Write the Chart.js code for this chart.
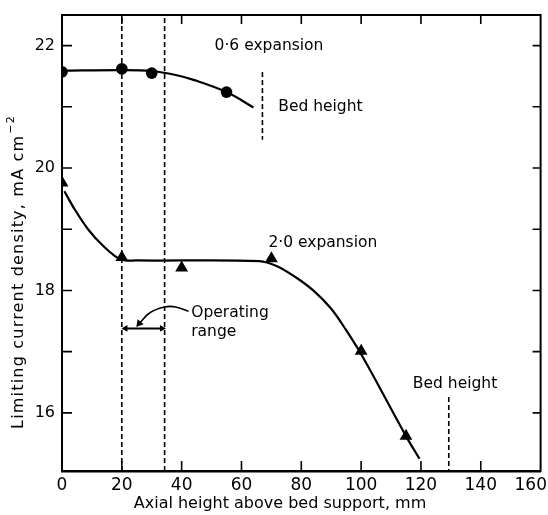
<!DOCTYPE html>
<html><head><meta charset="utf-8">
<script src="https://cdn.jsdelivr.net/npm/chart.js@4/dist/chart.umd.min.js"></script>
<style>html,body{margin:0;padding:0;background:#fff;} #wrap{width:548px;height:515px;}</style>
</head><body><div id="wrap"><canvas id="c" width="548" height="515"></canvas></div>
<script>
// ---- data ----
const xTickLabels = [0,20,40,60,80,100,120,140,160];
const yTickLabels = [16,18,20,22];
const yMinorTicks = [16,17,18,19,20,21,22];
const xRange = [0,160];
const yRange = [15.05,22.5];

// 0.6 expansion (circles)
const exp06X = [0,20,30,55];
const exp06Y = [21.57,21.62,21.55,21.24];
// 2.0 expansion (triangles)
const exp20X = [0,20,40,70,100,115];
const exp20Y = [19.76,18.54,18.37,18.52,17.01,15.62];

// hand-drawn fitted curves
const fit06X = [0,20,30,38,44,55,64];
const fit06Y = [21.59,21.6,21.585,21.52,21.44,21.24,20.99];
const fit20X = [0.8,4.3,8.7,13.3,19.5,25,66,71.7,78,84,90,95,100.7,115,119.5];
const fit20Y = [19.62,19.32,19.0,18.75,18.51,18.49,18.48,18.4,18.22,18.0,17.7,17.35,16.9,15.62,15.25];

// operating range limits (vertical dashed lines)
const rangeLimitsX = [20,34.3];
// bed height markers
const bed06X = [67,67];
const bed06Y = [21.57,20.46];
const bed20X = [129.3,129.3];
const bed20Y = [16.26,15.05];
// operating range double arrow
const rangeArrowX = [21.2,33.4];
const rangeArrowY = [17.38,17.38];
// pointer arrow from "Operating range" label
const pointerX = [42.3,38,34.3,29.5,25.8];
const pointerY = [17.66,17.73,17.73,17.64,17.46];

// annotation labels
const labelTexts = ['0·6 expansion','Bed height','2·0 expansion','Operating','range','Bed height'];
const labelX = [51,72.3,69,43.2,43.2,117.3];
const labelY = [22.0,21.0,18.78,17.64,17.32,16.47];

const xTitle = 'Axial height above bed support, mm';
const yTitle = 'Limiting current density, mA cm';
const yTitleSup = '\u22122';

// ---- build chart ----
const pts = (xs, ys) => xs.map((x,i)=>({x:x, y:ys[i]}));
const FONT = '"DejaVu Sans", sans-serif';

const dashed = (xs, ys) => ({
  data: pts(xs, ys), showLine:true, borderColor:'#000', borderWidth:1.6,
  borderDash:[5,3], pointRadius:0, fill:false
});

const datasets = [
  {data: pts(fit06X, fit06Y), showLine:true, borderColor:'#000', borderWidth:2.2, pointRadius:0, tension:0.35},
  {data: pts(fit20X, fit20Y), showLine:true, borderColor:'#000', borderWidth:2.2, pointRadius:0, tension:0.35},
  dashed([rangeLimitsX[0],rangeLimitsX[0]], yRange),
  dashed([rangeLimitsX[1],rangeLimitsX[1]], yRange),
  dashed(bed06X, bed06Y),
  dashed(bed20X, bed20Y),
  {data: pts(rangeArrowX, rangeArrowY), showLine:true, borderColor:'#000', borderWidth:2,
   pointStyle:'triangle', pointRadius:4, pointRotation:[270,90], backgroundColor:'#000', pointBorderWidth:0},
  {data: pts(pointerX, pointerY), showLine:true, borderColor:'#000', borderWidth:1.6, tension:0.4,
   pointStyle:'triangle', pointRadius:[0,0,0,0,4.5], pointRotation:[0,0,0,0,220], backgroundColor:'#000', pointBorderWidth:0},
  {data: pts(exp06X, exp06Y), showLine:false, pointStyle:'circle', pointRadius:5.8, backgroundColor:'#000', borderColor:'#000', pointBorderWidth:0},
  {data: pts(exp20X, exp20Y), showLine:false, pointStyle:'triangle', pointRadius:7.4, backgroundColor:'#000', borderColor:'#000', pointBorderWidth:0},
];

const decor = {
  id:'decor',
  afterDatasetsDraw(chart){
    const ctx = chart.ctx, a = chart.chartArea;
    const xs = chart.scales.x, ys = chart.scales.y;
    ctx.save();
    ctx.strokeStyle = '#000';
    ctx.lineWidth = 2;
    ctx.strokeRect(a.left, a.top, a.right - a.left, a.bottom - a.top);
    ctx.lineWidth = 1.6;
    ctx.beginPath();
    yMinorTicks.forEach(v=>{
      const y = ys.getPixelForValue(v);
      ctx.moveTo(a.left, y); ctx.lineTo(a.left + 10, y);
      ctx.moveTo(a.right, y); ctx.lineTo(a.right - 8, y);
    });
    xTickLabels.forEach(v=>{
      if (v === xRange[0] || v === xRange[1]) return;
      const x = xs.getPixelForValue(v);
      ctx.moveTo(x, a.bottom); ctx.lineTo(x, a.bottom - 10);
      ctx.moveTo(x, a.top); ctx.lineTo(x, a.top + 9);
    });
    ctx.stroke();
    ctx.restore();
  },
  afterDraw(chart){
    const ctx = chart.ctx, a = chart.chartArea;
    const xs = chart.scales.x, ys = chart.scales.y;
    ctx.save();
    ctx.fillStyle = '#000';
    // x tick labels (kept inside the canvas at the right edge)
    ctx.font = '17px ' + FONT;
    ctx.textAlign = 'center';
    ctx.textBaseline = 'middle';
    xTickLabels.forEach(v=>{
      const t = String(v);
      const w = ctx.measureText(t).width;
      let x = xs.getPixelForValue(v);
      x = Math.min(x, chart.width - 1 - w/2);
      ctx.fillText(t, x, a.bottom + 15);
    });
    // annotations
    ctx.font = '15.5px ' + FONT;
    ctx.textAlign = 'left';
    labelTexts.forEach((t,i)=>{
      ctx.fillText(t, xs.getPixelForValue(labelX[i]), ys.getPixelForValue(labelY[i]));
    });
    // x title
    ctx.font = '16px ' + FONT;
    ctx.textAlign = 'center';
    ctx.fillText(xTitle, 280, 504);
    // y title (rotated) with superscript
    ctx.translate(19, 272);
    ctx.rotate(-Math.PI/2);
    ctx.letterSpacing = '1.2px';
    ctx.font = '16px ' + FONT;
    const w1 = ctx.measureText(yTitle).width;
    ctx.font = '11px ' + FONT;
    const w2 = ctx.measureText(yTitleSup).width;
    const start = -(w1 + w2 + 1) / 2;
    ctx.textAlign = 'left';
    ctx.font = '16px ' + FONT;
    ctx.fillText(yTitle, start, 0);
    ctx.font = '11px ' + FONT;
    ctx.fillText(yTitleSup, start + w1 + 1, -8);
    ctx.restore();
  }
};

new Chart(document.getElementById('c'), {
  type:'scatter',
  data:{datasets},
  options:{
    responsive:false,
    animation:false,
    devicePixelRatio:1,
    layout:{padding:{top:15,right:6,left:0,bottom:0}},
    plugins:{legend:{display:false}, tooltip:{enabled:false}},
    scales:{
      x:{
        type:'linear', min:xRange[0], max:xRange[1],
        afterBuildTicks(s){ s.ticks = xTickLabels.map(v=>({value:v})); },
        afterFit(s){ s.height = 44; s.paddingLeft = 0; s.paddingRight = 0; },
        grid:{display:true, drawOnChartArea:false, drawTicks:false},
        border:{display:true, color:'#000', width:2.5},
        ticks:{display:false}
      },
      y:{
        type:'linear', min:yRange[0], max:yRange[1],
        afterBuildTicks(s){ s.ticks = yTickLabels.map(v=>({value:v})); },
        afterFit(s){ s.width = 62; s.paddingTop = 0; s.paddingBottom = 0; },
        grid:{display:true, drawOnChartArea:false, drawTicks:false},
        border:{display:true, color:'#000', width:2},
        ticks:{color:'#000', font:{family:FONT, size:16}, padding:7, callback:(v)=> String(v)}
      }
    }
  },
  plugins:[decor]
});
</script></body></html>
